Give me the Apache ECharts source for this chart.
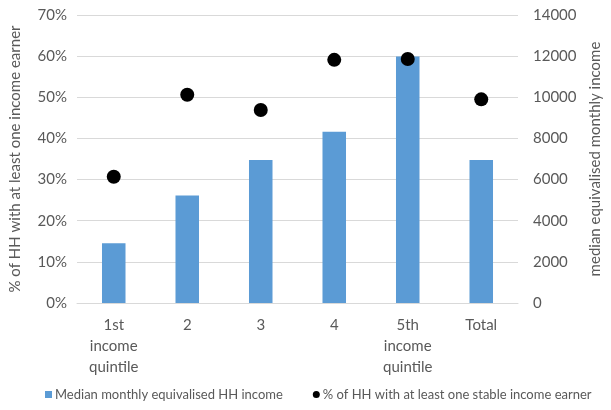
<!DOCTYPE html>
<html>
<head>
<meta charset="utf-8">
<script src="https://cdn.jsdelivr.net/npm/echarts@6/dist/echarts.min.js"></script>
<style>
  html, body { margin: 0; padding: 0; background: #fff; }
  #chart { width: 611px; height: 410px; }
</style>
</head>
<body>
<div id="chart"></div>
<script>
// Income quintiles and the two measures plotted for each
const categories = ['1st\nincome\nquintile', '2', '3', '4', '5th\nincome\nquintile', 'Total'];
const medianIncome = [2900, 5230, 6950, 8330, 11980, 6950];
const shareStableEarner = [0.307, 0.506, 0.469, 0.591, 0.593, 0.495];

const incomeName = 'Median monthly equivalised HH income';
const shareName = '% of HH with at least one stable income earner';

const textColor = '#595959';
const font = 'Lato, "Open Sans", sans-serif';

const chart = echarts.init(document.getElementById('chart'));
chart.setOption({
  animation: false,
  textStyle: { fontFamily: font, color: textColor },
  grid: { left: 77, right: 83, top: 15, bottom: 107 },
  legend: {
    bottom: 4,
    left: 40,
    itemGap: 30,
    itemWidth: 7,
    itemHeight: 7,
    textStyle: { fontSize: 13, color: textColor, fontFamily: font, padding: [0, 0, 0, -2] },
    data: [
      { name: incomeName, icon: 'rect' },
      { name: shareName, icon: 'circle', itemStyle: { color: '#000', opacity: 1 } }
    ]
  },
  xAxis: {
    type: 'category',
    data: categories,
    axisLine: { lineStyle: { color: '#D9D9D9' } },
    axisTick: { show: false },
    axisLabel: { color: textColor, fontSize: 15, lineHeight: 21, margin: 12, interval: 0 }
  },
  yAxis: [
    {
      type: 'value',
      min: 0, max: 0.7, interval: 0.1,
      name: '% of HH with at least one income earner',
      nameLocation: 'middle',
      nameGap: 54,
      nameTextStyle: { fontSize: 15, color: textColor },
      axisLabel: {
        color: textColor, fontSize: 15, margin: 10,
        formatter: v => Math.round(v * 100) + '%'
      },
      axisLine: { show: false },
      axisTick: { show: false },
      splitLine: { lineStyle: { color: '#D9D9D9' } }
    },
    {
      type: 'value',
      min: 0, max: 14000, interval: 2000,
      name: 'median equivalised monthly income',
      nameLocation: 'middle',
      nameGap: 70,
      nameRotate: 90,
      nameTextStyle: { fontSize: 15, color: textColor },
      axisLabel: { color: textColor, fontSize: 15, margin: 15, formatter: v => String(v) },
      axisLine: { show: false },
      axisTick: { show: false },
      splitLine: { show: false }
    }
  ],
  series: [
    {
      name: incomeName,
      type: 'bar',
      yAxisIndex: 1,
      data: medianIncome,
      barWidth: '32%',
      itemStyle: { color: '#5B9BD5' }
    },
    {
      name: shareName,
      type: 'scatter',
      yAxisIndex: 0,
      data: shareStableEarner,
      symbol: 'circle',
      symbolSize: 14,
      itemStyle: { color: '#000000', opacity: 1 }
    }
  ]
});
</script>
</body>
</html>
